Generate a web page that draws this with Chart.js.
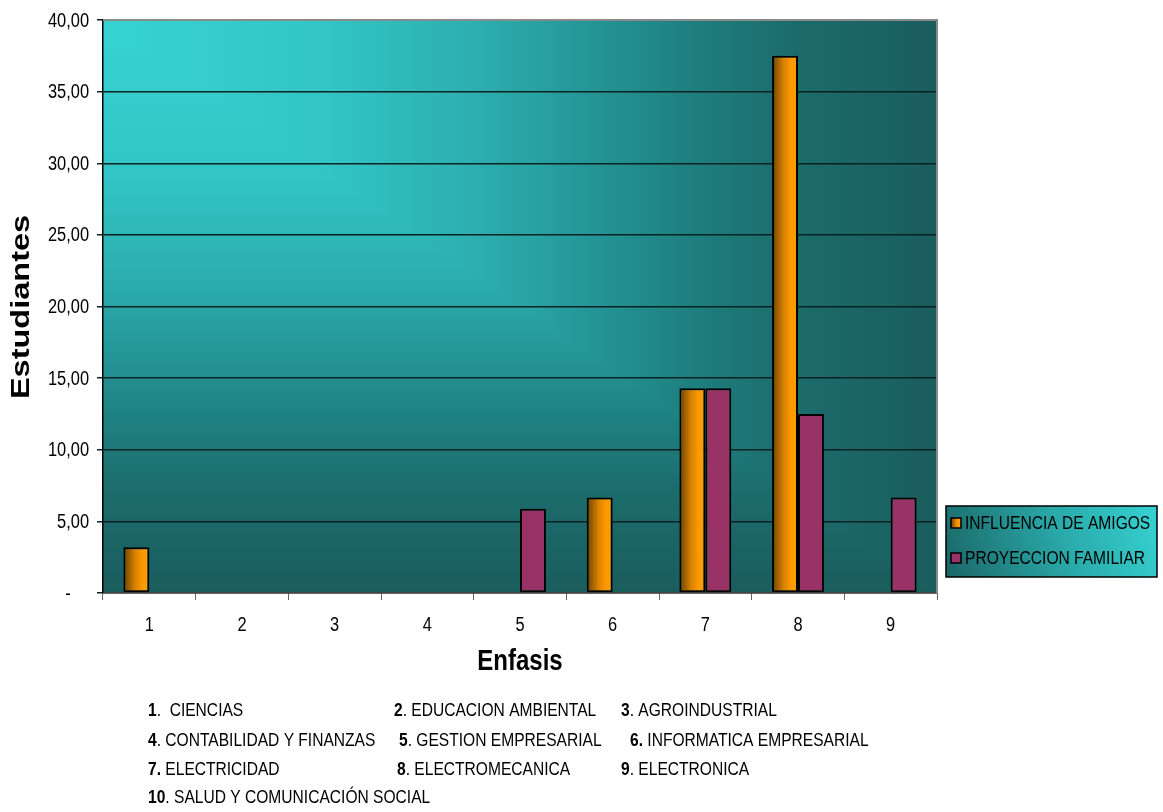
<!DOCTYPE html>
<html>
<head>
<meta charset="utf-8">
<script src="https://cdn.jsdelivr.net/npm/chart.js@4.4.1/dist/chart.umd.min.js"></script>
<style>
  html,body{margin:0;padding:0;background:#fff;}
  canvas{display:block;}
</style>
</head>
<body>
<canvas id="chart" width="1163" height="812"></canvas>
<script>
// ---- data ----
const categories = ['1','2','3','4','5','6','7','8','9'];
const amigos     = [3.2, 0, 0, 0, 0, 6.67, 14.29, 37.5, 0];
const familiar   = [0, 0, 0, 0, 5.88, 0, 14.29, 12.5, 6.67];
const seriesNames = ['INFLUENCIA DE AMIGOS','PROYECCION FAMILIAR'];
const yTitle = 'Estudiantes';
const xTitle = 'Enfasis';
const noteNums  = ['1','2','3','4','5','6.','7.','8','9','10'];
const noteNames = ['.  CIENCIAS','. EDUCACION AMBIENTAL','. AGROINDUSTRIAL',
  '. CONTABILIDAD Y FINANZAS','. GESTION EMPRESARIAL',' INFORMATICA EMPRESARIAL',
  ' ELECTRICIDAD','. ELECTROMECANICA','. ELECTRONICA','. SALUD Y COMUNICACIÓN SOCIAL'];

const FONT = "'Liberation Sans',Arial,sans-serif";
const SQUEEZE = 0.82;   // original text is condensed (Arial Narrow look)
const CAT_PCT = 0.56;
const PURPLE = '#993366';

function orangeGrad(ctx,x0,x1){
  const g=ctx.createLinearGradient(x0,0,x1,0);
  g.addColorStop(0,'#6b4000');
  g.addColorStop(0.45,'#d88200');
  g.addColorStop(0.75,'#ff9900');
  g.addColorStop(1,'#ff9b00');
  return g;
}

// orange bars: horizontal gradient across each bar
function amigosFill(c){
  const chart=c.chart, x=chart.scales.x;
  if(!x || !chart.chartArea) return '#ff9900';
  const catW=x.width/categories.length, barW=catW*CAT_PCT/2;
  const cx=x.getPixelForValue(c.dataIndex);
  return orangeGrad(chart.ctx, cx-barW, cx);
}

// condensed text helper
function txt(ctx,s,x,y,font,align,sx){
  ctx.save();
  ctx.translate(x,y);ctx.scale(sx||SQUEEZE,1);
  ctx.font=font;ctx.textAlign=align||'left';ctx.textBaseline='middle';
  ctx.fillText(s,0,0);
  const w=ctx.measureText(s).width*(sx||SQUEEZE);
  ctx.restore();
  return w;
}

// plot background: "from corner" gradient, light at top-left
const bgPlugin={id:'bg',beforeDraw(chart){
  const {ctx,chartArea:{left,top,right,bottom}}=chart;
  const stops=[[0,'#36d2d2'],[0.26,'#32c6c6'],[0.45,'#2caeae'],[0.57,'#25989a'],
               [0.7,'#1f8080'],[0.83,'#1c6b6b'],[1,'#1a5d5d']];
  const gh=ctx.createLinearGradient(left,0,right,0);
  const gv=ctx.createLinearGradient(0,top,0,bottom);
  stops.forEach(s=>{gh.addColorStop(s[0],s[1]);gv.addColorStop(s[0],s[1]);});
  ctx.save();
  ctx.fillStyle=gv;ctx.fillRect(left,top,right-left,bottom-top);
  ctx.beginPath();ctx.moveTo(left,top);ctx.lineTo(right,top);ctx.lineTo(right,bottom);ctx.closePath();
  ctx.fillStyle=gh;ctx.fill();
  ctx.restore();
}};

const extrasPlugin={id:'extras',afterDraw(chart){
  const {ctx,chartArea:{left,top,right,bottom},scales:{x,y}}=chart;
  ctx.save();
  // grey frame top & right
  ctx.strokeStyle='#8a8a8a';ctx.lineWidth=2;
  ctx.beginPath();ctx.moveTo(left,top);ctx.lineTo(right,top);ctx.lineTo(right,bottom);ctx.stroke();

  ctx.fillStyle='#000';
  // tick labels (condensed)
  y.ticks.forEach((t,i)=>txt(ctx,t.label,89,y.getPixelForTick(i)+1,'20px '+FONT,'right'));
  x.ticks.forEach((t,i)=>txt(ctx,String(t.label),x.getPixelForTick(i),625,'20px '+FONT,'center'));

  // axis titles
  ctx.save();
  ctx.translate(22,307);ctx.rotate(-Math.PI/2);
  txt(ctx,yTitle,0,0,'bold 26px '+FONT,'center',1.25);
  ctx.restore();
  txt(ctx,xTitle,(left+right)/2,662,'bold 30px '+FONT,'center',0.8);

  // legend box
  const lx=946,ly=506,lw=211,lh=71;
  const lg=ctx.createLinearGradient(lx,ly+lh,lx+lw,ly);
  lg.addColorStop(0,'#1b6666');lg.addColorStop(0.55,'#2aa9a9');lg.addColorStop(1,'#36d2d2');
  ctx.fillStyle=lg;ctx.fillRect(lx,ly,lw,lh);
  ctx.strokeStyle='#000';ctx.lineWidth=1.5;ctx.strokeRect(lx,ly,lw,lh);
  seriesNames.forEach((name,i)=>{
    const yy=523+i*35;
    ctx.fillStyle=i===0?orangeGrad(ctx,951,961):PURPLE;
    ctx.fillRect(951,yy-5,10,10);
    ctx.strokeStyle='#000';ctx.lineWidth=1.5;ctx.strokeRect(951,yy-5,10,10);
    ctx.fillStyle='#000';
    txt(ctx,name,965,yy+1,'19px '+FONT,'left');
  });

  // footnotes (text box under the chart)
  const noteX=[148,394,621,148,399,630,148,397,621,148], rows=[711,741,770,798];
  noteNums.forEach((n,i)=>{
    let xx=noteX[i]; const yy=rows[Math.floor(i/3)];
    xx+=txt(ctx,n,xx,yy,'bold 19px '+FONT,'left');
    txt(ctx,noteNames[i],xx,yy,'19px '+FONT,'left');
  });
  ctx.restore();
}};

Chart.defaults.font.family=FONT;

new Chart(document.getElementById('chart'),{
  type:'bar',
  data:{
    labels:categories,
    datasets:[
      {label:seriesNames[0],data:amigos,backgroundColor:amigosFill,
       borderColor:'#000',borderWidth:c=>c.raw?2:0,borderSkipped:false,
       barPercentage:1,categoryPercentage:CAT_PCT},
      {label:seriesNames[1],data:familiar,backgroundColor:PURPLE,
       borderColor:'#000',borderWidth:c=>c.raw?2:0,borderSkipped:false,
       barPercentage:1,categoryPercentage:CAT_PCT}
    ]
  },
  options:{
    responsive:false,animation:false,devicePixelRatio:1,
    layout:{padding:{left:0,top:20,right:226,bottom:0}},
    plugins:{legend:{display:false},tooltip:{enabled:false}},
    scales:{
      x:{
        grid:{display:true,drawOnChartArea:false,drawTicks:true,tickLength:7,color:'#666',offset:true},
        border:{display:true,color:'#444',width:1.5},
        ticks:{font:{size:20},padding:14,color:'rgba(0,0,0,0)'},
        afterFit:s=>{s.height=219;}
      },
      y:{
        min:0,max:40,
        grid:{color:'#0b2222',lineWidth:1.5,tickLength:6},
        border:{display:true,color:'#000',width:1.5},
        ticks:{stepSize:5,font:{size:20},padding:8,color:'rgba(0,0,0,0)',
          callback:v=>v===0?'-\u2007\u2007':v.toFixed(2).replace('.',',')},
        afterFit:s=>{s.width=103;}
      }
    }
  },
  plugins:[bgPlugin,extrasPlugin]
});
</script>
</body>
</html>
